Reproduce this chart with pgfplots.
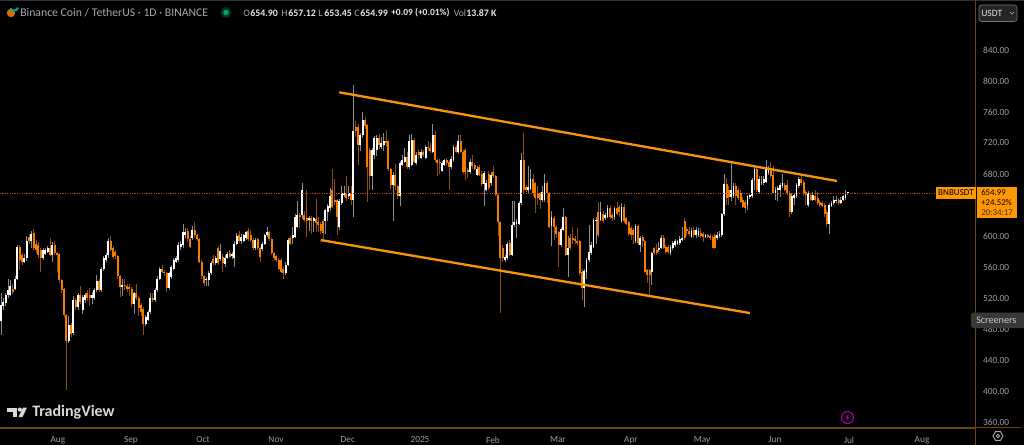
\documentclass[border=0pt]{standalone}
\usepackage{fontspec}
\usepackage{pgfplots}
\usepackage{pgfplotstable}
\pgfplotsset{compat=1.18}
\setmainfont{Carlito}
\definecolor{bgk}{HTML}{000000}
\definecolor{panel}{HTML}{6B4710}
\definecolor{upbody}{HTML}{FFFFFF}
\definecolor{dnbody}{HTML}{F57C00}
\definecolor{upwick}{HTML}{8C8C8C}
\definecolor{dnwick}{HTML}{8F4E08}
\definecolor{trend}{HTML}{F7930F}
\definecolor{tagc}{HTML}{FF9800}
\definecolor{axtxt}{HTML}{9A9DA5}
\definecolor{hdr}{HTML}{A6A9B0}
\definecolor{pline}{HTML}{A3470C}
\pgfplotstableread{
n o h l c
0 490 526 472 511
1 510 520 505 515
2 513 527 510 524
3 524 545 520 530
4 524 543 522 535
5 532 538 525 528
6 532 548 530 545
7 544 589 543 586
8 586 588 556 569
9 575 578 562 567
10 567 577 565 571
11 571 600 568 594
12 599 602 590 593
13 593 606 585 603
14 604 609 582 584
15 590 595 578 582
16 588 592 572 576
17 582 585 554 571
18 571 585 569 582
19 577 584 575 582
20 580 587 578 584
21 584 598 574 576
22 576 592 567 588
23 588 593 575 578
24 578 580 554 576
25 577 578 540 543
26 543 545 527 530
27 531 533 495 498
28 498 500 401 464
29 464 497 462 485
30 485 488 470 474
31 475 522 472 517
32 517 520 505 509
33 509 527 505 524
34 524 535 512 515
35 504 524 500 521
36 517 527 514 524
37 526 530 516 520
38 524 533 510 520
39 520 528 512 524
40 520 533 518 530
41 530 550 528 542
42 542 545 528 530
43 530 560 528 558
44 558 574 555 571
45 569 578 566 575
46 575 598 572 593
47 593 600 580 582
48 584 587 570 573
49 580 582 570 574
50 574 576 545 548
51 548 550 521 534
52 534 545 522 537
53 537 545 530 535
54 535 538 528 532
55 534 538 522 532
56 532 534 508 512
57 512 528 500 526
58 526 538 518 520
59 520 522 497 507
60 511 513 497 502
61 506 508 472 486
62 486 498 484 496
63 492 505 490 502
64 502 526 500 520
65 520 526 515 517
66 517 533 515 530
67 530 548 528 545
68 545 560 543 557
69 557 563 552 554
70 554 556 548 552
71 552 554 528 533
72 533 554 530 552
73 547 562 545 560
74 558 572 556 569
75 567 574 565 571
76 569 592 567 588
77 586 594 582 590
78 588 615 585 605
79 601 610 597 605
80 607 610 592 596
81 596 600 584 586
82 597 613 595 608
83 608 618 598 601
84 601 603 594 596
85 596 598 565 567
86 567 569 545 548
87 548 550 536 539
88 543 547 535 545
89 543 555 535 552
90 552 568 550 565
91 570 575 562 565
92 565 574 563 571
93 584 587 563 565
94 570 590 568 581
95 573 577 553 565
96 564 575 560 572
97 572 579 570 577
98 578 582 571 573
99 574 580 570 577
100 572 593 560 590
101 590 604 588 600
102 601 606 591 593
103 593 602 590 599
104 594 603 592 601
105 597 607 595 605
106 607 610 594 596
107 601 608 592 595
108 595 597 582 584
109 584 597 582 595
110 596 598 582 584
111 584 586 566 573
112 583 592 581 590
113 590 603 588 601
114 601 612 599 605
115 605 607 594 596
116 596 598 576 578
117 578 580 568 571
118 574 576 567 569
119 569 571 556 558
120 569 572 552 554
121 558 560 544 552
122 552 566 550 563
123 563 597 561 595
124 598 600 588 590
125 598 612 590 601
126 599 628 597 625
127 612 645 610 627
128 627 630 610 624
129 627 668 622 660
130 627 632 618 621
131 623 659 599 619
132 621 626 606 623
133 623 626 603 619
134 620 625 605 623
135 622 648 605 617
136 618 625 605 614
137 616 618 603 606
138 620 622 594 604
139 620 635 603 633
140 631 641 620 639
141 636 662 632 651
142 660 687 636 638
143 646 673 640 644
144 646 648 601 625
145 612 648 608 645
146 642 664 640 655
147 653 664 650 656
148 656 677 645 649
149 651 664 648 656
150 656 665 640 647
151 647 795 625 736
152 740 748 728 735
153 740 745 691 717
154 717 733 710 730
155 730 760 727 750
156 750 754 738 742
157 743 745 644 689
158 711 714 660 677
159 677 714 660 711
160 705 729 700 726
161 711 730 703 726
162 726 732 712 717
163 715 728 712 720
164 717 733 710 722
165 722 737 716 720
166 722 724 684 686
167 686 688 660 666
168 666 683 620 679
169 679 693 660 664
170 664 666 648 651
171 651 697 639 694
172 692 705 690 698
173 696 713 694 702
174 702 708 686 689
175 689 730 687 722
176 692 731 690 724
177 724 726 694 696
178 694 708 692 705
179 709 712 700 705
180 701 712 699 709
181 709 711 702 705
182 701 718 699 715
183 715 722 710 713
184 714 720 707 710
185 709 745 707 730
186 730 735 696 698
187 698 700 677 694
188 696 700 680 694
189 684 697 682 694
190 692 700 690 698
191 698 701 692 694
192 696 698 660 689
193 689 703 687 699
194 698 718 696 715
195 715 717 707 709
196 708 730 706 722
197 722 730 707 709
198 709 711 680 683
199 711 713 672 683
200 685 688 675 682
201 682 700 680 696
202 696 704 687 690
203 692 694 685 687
204 679 690 677 687
205 689 692 677 679
206 680 684 665 667
207 667 684 639 681
208 660 672 658 668
209 680 684 660 662
210 668 682 665 679
211 683 690 675 677
212 677 679 651 653
213 653 655 600 618
214 618 620 501 571
215 585 588 567 572
216 569 575 567 573
217 571 592 569 590
218 591 595 574 576
219 576 645 574 614
220 614 645 612 618
221 615 622 597 618
222 616 645 614 642
223 642 707 640 698
224 698 733 656 659
225 663 666 657 659
226 659 690 656 663
227 661 686 659 673
228 673 680 652 655
229 668 670 630 649
230 655 665 640 649
231 655 657 635 647
232 646 665 644 657
233 646 680 644 669
234 669 671 642 655
235 655 657 610 612
236 613 632 587 624
237 623 626 595 612
238 612 614 598 603
239 605 607 560 588
240 588 612 586 609
241 608 636 606 624
242 624 626 574 576
243 576 600 547 584
244 597 603 582 584
245 597 612 590 595
246 596 600 590 593
247 593 610 588 591
248 593 595 550 552
249 554 557 518 533
250 533 558 509 555
251 554 572 545 569
252 569 614 567 580
253 578 592 576 588
254 586 623 584 621
255 619 624 590 621
256 631 644 599 601
257 621 644 619 631
258 629 632 617 619
259 623 630 621 627
260 625 640 623 636
261 636 640 622 624
262 627 630 620 623
263 625 638 621 636
264 636 644 627 629
265 638 640 625 631
266 619 642 617 638
267 638 641 617 619
268 623 625 614 616
269 618 620 600 603
270 610 613 595 601
271 608 610 590 601
272 593 616 591 613
273 613 615 589 591
274 588 600 580 597
275 599 601 586 593
276 593 595 552 554
277 556 558 540 550
278 556 558 524 550
279 554 580 537 578
280 584 586 576 578
281 582 590 575 578
282 582 592 580 584
283 585 601 583 598
284 598 601 583 585
285 586 589 577 580
286 586 589 577 580
287 578 589 576 586
288 584 594 582 591
289 588 596 586 593
290 590 595 588 593
291 591 600 589 596
292 595 612 593 597
293 620 623 595 597
294 609 612 600 607
295 607 612 600 603
296 599 610 597 606
297 608 612 597 601
298 601 612 598 608
299 601 610 599 606
300 604 610 598 600
301 602 605 592 599
302 599 603 597 601
303 601 603 597 599
304 600 602 595 597
305 599 601 584 585
306 601 603 583 585
307 597 605 595 601
308 600 606 598 603
309 601 630 599 628
310 628 680 626 667
311 667 675 640 649
312 659 665 640 650
313 650 694 645 659
314 651 668 649 664
315 664 668 640 651
316 660 662 647 649
317 655 660 642 644
318 646 650 636 638
319 644 646 630 636
320 640 653 634 651
321 650 656 648 653
322 651 675 649 672
323 672 690 660 687
324 687 690 657 659
325 657 677 655 674
326 668 678 666 670
327 668 677 666 674
328 670 698 668 689
329 681 690 679 687
330 687 695 675 677
331 679 690 654 656
332 655 663 646 660
333 659 665 645 662
334 660 669 650 666
335 664 680 662 668
336 666 668 658 660
337 666 672 653 655
338 656 658 624 631
339 631 655 629 652
340 649 656 640 653
341 651 669 649 666
342 664 676 662 674
343 674 677 666 668
344 670 672 652 655
345 657 659 640 653
346 640 658 638 655
347 653 656 645 647
348 647 657 645 653
349 651 660 645 647
350 649 657 640 642
351 644 646 638 640
352 642 645 637 639
353 640 642 625 629
354 631 633 612 616
355 616 642 603 640
356 639 645 637 642
357 642 652 640 646
358 645 652 643 647
359 647 649 640 642
360 643 650 641 647
361 647 653 645 651
362 649 659 647 656
363 654.90 657.12 653.45 654.99
}\candles
\begin{document}
\begin{tikzpicture}[x=0.75pt,y=-0.75pt]
\useasboundingbox (0,0) rectangle (1024,445);
\fill[black] (-4,-4) rectangle (1028,449);
\fill[black!80!white] (-4,-4) rectangle (1028,1.2);
\begin{axis}[
  at={(0pt,-321pt)}, anchor=south west, scale only axis,
  width=731.25pt, height=321pt,
  xmin=-0.43, xmax=417.5, ymin=352.3, ymax=904.5,
  axis x line*=bottom, axis y line*=right,
  axis line style={draw=panel, line width=0.75pt},
  tick style={draw=none},
  xtick={24.4,55.7,86.6,117.9,148.7,179.6,210.9,238.7,270,300.5,331.8,363.5,394.8},
  xticklabels={Aug,Sep,Oct,Nov,Dec,2025,Feb,Mar,Apr,May,Jun,Jul,Aug},
  ytick={360,400,440,480,520,560,600,640,680,720,760,800,840},
  yticklabel pos=right,
  /pgf/number format/.cd, fixed, fixed zerofill, precision=2, 1000 sep={}, assume math mode=true,
  /pgfplots/.cd,
  ticklabel style={font=\fontsize{7pt}{8pt}\selectfont, text=axtxt},
  yticklabel style={anchor=west, xshift=2.5pt},
  xticklabel style={anchor=north, yshift=-3pt},
]
% wicks
\addplot[draw=none, forget plot, x filter/.expression={\thisrow{c}>=\thisrow{o} ? x : nan},
  error bars/.cd, y dir=plus, y explicit, error mark=none,
  error bar style={draw=upwick, line width=0.6pt}]
  table[x=n, y=l, y error plus expr={\thisrow{h}-\thisrow{l}}] {\candles};
\addplot[draw=none, forget plot, x filter/.expression={\thisrow{c}<\thisrow{o} ? x : nan},
  error bars/.cd, y dir=plus, y explicit, error mark=none,
  error bar style={draw=dnwick, line width=0.6pt}]
  table[x=n, y=l, y error plus expr={\thisrow{h}-\thisrow{l}}] {\candles};
% bodies
\addplot[draw=none, forget plot, x filter/.expression={\thisrow{c}>=\thisrow{o} ? x : nan},
  error bars/.cd, y dir=plus, y explicit, error mark=none,
  error bar style={draw=upbody, line width=1.35pt}]
  table[x=n, y=o, y error plus expr={max(\thisrow{c}-\thisrow{o},1.5)}] {\candles};
\addplot[draw=none, forget plot, x filter/.expression={\thisrow{c}<\thisrow{o} ? x : nan},
  error bars/.cd, y dir=plus, y explicit, error mark=none,
  error bar style={draw=dnbody, line width=1.45pt}]
  table[x=n, y=c, y error plus expr={max(\thisrow{o}-\thisrow{c},1.5)}] {\candles};
% price line
\addplot[draw=pline, line width=0.8pt, dash pattern=on 0.9pt off 0.9pt] coordinates {(-0.43,654.99) (417.5,654.99)};
% channel
\addplot[draw=trend, line width=1.75pt] coordinates {(145,785.4) (358.3,671)};
\addplot[draw=trend, line width=1.75pt] coordinates {(137,594.8) (321,500.6)};
\end{axis}
% panel lines
\draw[panel, line width=0.75pt] (975.5,0) -- (975.5,445);
\draw[panel, line width=0.75pt] (0,427.5) -- (1021,427.5);
% header
\fill[orange!85!black] (11,13) circle (4.2);
\draw[teal!70!cyan, line width=1.5pt] (10,8.5) arc[start angle=150,end angle=20,radius=4.5];
\node[anchor=west, inner sep=0, text=hdr, font=\fontsize{8.8pt}{10pt}\selectfont] at (20,13) {Binance Coin / TetherUS · 1D · BINANCE};
\fill[teal!35!black] (226,12.5) circle (5.5);
\fill[teal!70!green] (226,12.5) circle (2.8);
\foreach \xa/\la/\xb/\vb in {243/O/250/654.90,281/H/288/657.12,318/L/324/653.45,354/C/360/654.99}{
  \node[anchor=west, inner sep=0, text=hdr, font=\fontsize{7.4pt}{9pt}\selectfont] at (\xa,13) {\la};
  \node[anchor=west, inner sep=0, text=white!90!black, font=\fontsize{7.4pt}{9pt}\bfseries\selectfont] at (\xb,13) {\vb};
}
\node[anchor=west, inner sep=0, text=white!90!black, font=\fontsize{7.1pt}{9pt}\bfseries\selectfont] at (391,13) {+0.09 (+0.01\%)};
\node[anchor=west, inner sep=0, text=hdr, font=\fontsize{7.2pt}{9pt}\selectfont] at (453.5,13) {Vol};
\node[anchor=west, inner sep=0, text=white!90!black, font=\fontsize{7.4pt}{9pt}\bfseries\selectfont] at (466,13) {13.87 K};
% USDT button
\draw[black!55!white, fill=black!85!white, rounded corners=2pt, line width=0.5pt] (979,5) rectangle (1017,21.5);
\node[anchor=west, inner sep=0, text=white!90!black, font=\fontsize{7.2pt}{9pt}\selectfont] at (981,13) {USDT};
\draw[white!70!black, line width=0.5pt] (1010,12) -- (1012,14) -- (1014,12);
% price tags
\fill[tagc] (936,187) rectangle (975.5,199);
\fill[tagc] (976.5,187) rectangle (1017,218.5);
\node[anchor=center, inner sep=0, text=black, font=\fontsize{6.8pt}{8pt}\selectfont] at (956,193) {BNBUSDT};
\node[anchor=west, inner sep=0, text=black, font=\fontsize{6.6pt}{7pt}\selectfont] at (981,192.5) {654.99};
\node[anchor=west, inner sep=0, text=black, font=\fontsize{6.6pt}{7pt}\selectfont] at (981,202.5) {+24.52\%};
\node[anchor=west, inner sep=0, text=black!70!orange, font=\fontsize{6.6pt}{7pt}\selectfont] at (981,212.5) {20:34:17};
% screeners
\fill[black!78!white, rounded corners=2pt] (971,312.5) rectangle (1030,328);
\node[anchor=west, inner sep=0, text=white!80!black, font=\fontsize{7.6pt}{9pt}\selectfont] at (976,320) {Screeners};
% TradingView logo
\fill[white!85!black] (7,407.5) rectangle (17,411.5);
\fill[white!85!black] (12.5,411.5) rectangle (17,417);
\fill[white!85!black] (19.8,409.6) circle (2.1);
\fill[white!85!black] (18.5,417) -- (23,407.5) -- (27,407.5) -- (22.5,417) -- cycle;
\node[anchor=west, inner sep=0, text=white!85!black, font=\fontsize{12pt}{13pt}\bfseries\selectfont] at (32,412) {TradingView};
% lightning
\draw[violet!70!magenta, line width=0.9pt] (847.5,417.5) circle (6);
\fill[violet!70!magenta] (849,413.5) -- (845.5,418) -- (847.3,418) -- (846,421.5) -- (849.5,417) -- (847.7,417) -- cycle;
% settings
\draw[white!65!black, line width=0.7pt] (993,436) -- (995.5,431.7) -- (1000.5,431.7) -- (1003,436) -- (1000.5,440.3) -- (995.5,440.3) -- cycle;
\draw[white!65!black, line width=0.7pt] (998,436) circle (1.8);
\end{tikzpicture}
\end{document}
